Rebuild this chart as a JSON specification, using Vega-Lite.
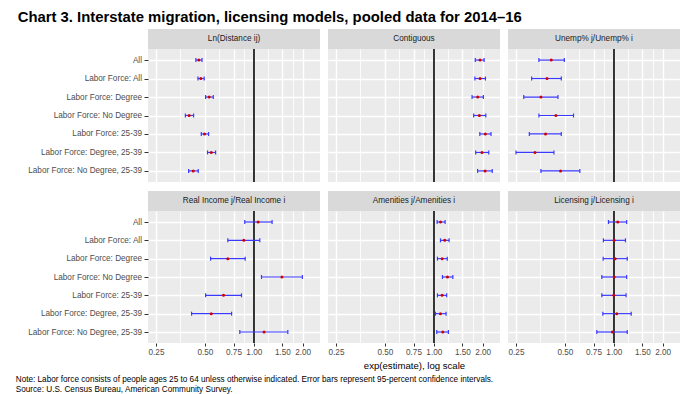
{
  "$schema": "https://vega.github.io/schema/vega-lite/v6.json",
  "background": "white",
  "padding": {"left": 15, "top": 10, "right": 8, "bottom": 4},
  "autosize": {"type": "pad"},
  "title": {"text": "Chart 3. Interstate migration, licensing models, pooled data for 2014–16", "anchor": "start", "font": "Liberation Sans", "fontSize": 14.85, "fontWeight": "bold", "color": "black", "offset": 4, "dx": 2},
  "config": {
    "view": {"fill": "#EBEBEB", "stroke": null},
    "axis": {"gridColor": "white", "domain": false, "tickColor": "#333333", "tickWidth": 1, "labelColor": "#4D4D4D", "labelFont": "Liberation Sans", "labelFontSize": 8.2, "titleFont": "Liberation Sans", "titleFontWeight": "normal", "titleColor": "black"},
    "text": {"font": "Liberation Sans"}
  },
  "datasets": {
    "est": [
      {"panel": "Ln(Distance ij)", "group": "All", "est": 0.459, "lo": 0.44, "hi": 0.48},
      {"panel": "Ln(Distance ij)", "group": "Labor Force: All", "est": 0.472, "lo": 0.453, "hi": 0.495},
      {"panel": "Ln(Distance ij)", "group": "Labor Force: Degree", "est": 0.531, "lo": 0.505, "hi": 0.563},
      {"panel": "Ln(Distance ij)", "group": "Labor Force: No Degree", "est": 0.40, "lo": 0.379, "hi": 0.426},
      {"panel": "Ln(Distance ij)", "group": "Labor Force: 25-39", "est": 0.497, "lo": 0.475, "hi": 0.527},
      {"panel": "Ln(Distance ij)", "group": "Labor Force: Degree, 25-39", "est": 0.547, "lo": 0.519, "hi": 0.582},
      {"panel": "Ln(Distance ij)", "group": "Labor Force: No Degree, 25-39", "est": 0.424, "lo": 0.397, "hi": 0.455},
      {"panel": "Contiguous", "group": "All", "est": 1.926, "lo": 1.80, "hi": 2.04},
      {"panel": "Contiguous", "group": "Labor Force: All", "est": 1.926, "lo": 1.79, "hi": 2.08},
      {"panel": "Contiguous", "group": "Labor Force: Degree", "est": 1.864, "lo": 1.72, "hi": 2.02},
      {"panel": "Contiguous", "group": "Labor Force: No Degree", "est": 1.908, "lo": 1.76, "hi": 2.09},
      {"panel": "Contiguous", "group": "Labor Force: 25-39", "est": 2.077, "lo": 1.92, "hi": 2.25},
      {"panel": "Contiguous", "group": "Labor Force: Degree, 25-39", "est": 1.98, "lo": 1.81, "hi": 2.18},
      {"panel": "Contiguous", "group": "Labor Force: No Degree, 25-39", "est": 2.07, "lo": 1.86, "hi": 2.29},
      {"panel": "Unemp% j/Unemp% i", "group": "All", "est": 0.412, "lo": 0.346, "hi": 0.496},
      {"panel": "Unemp% j/Unemp% i", "group": "Labor Force: All", "est": 0.388, "lo": 0.312, "hi": 0.475},
      {"panel": "Unemp% j/Unemp% i", "group": "Labor Force: Degree", "est": 0.356, "lo": 0.279, "hi": 0.453},
      {"panel": "Unemp% j/Unemp% i", "group": "Labor Force: No Degree", "est": 0.44, "lo": 0.346, "hi": 0.565},
      {"panel": "Unemp% j/Unemp% i", "group": "Labor Force: 25-39", "est": 0.38, "lo": 0.302, "hi": 0.475},
      {"panel": "Unemp% j/Unemp% i", "group": "Labor Force: Degree, 25-39", "est": 0.327, "lo": 0.25, "hi": 0.428},
      {"panel": "Unemp% j/Unemp% i", "group": "Labor Force: No Degree, 25-39", "est": 0.47, "lo": 0.356, "hi": 0.618},
      {"panel": "Real Income j/Real Income i", "group": "All", "est": 1.063, "lo": 0.88, "hi": 1.296},
      {"panel": "Real Income j/Real Income i", "group": "Labor Force: All", "est": 0.868, "lo": 0.692, "hi": 1.089},
      {"panel": "Real Income j/Real Income i", "group": "Labor Force: Degree", "est": 0.692, "lo": 0.542, "hi": 0.885},
      {"panel": "Real Income j/Real Income i", "group": "Labor Force: No Degree", "est": 1.49, "lo": 1.115, "hi": 1.99},
      {"panel": "Real Income j/Real Income i", "group": "Labor Force: 25-39", "est": 0.651, "lo": 0.505, "hi": 0.84},
      {"panel": "Real Income j/Real Income i", "group": "Labor Force: Degree, 25-39", "est": 0.547, "lo": 0.414, "hi": 0.73},
      {"panel": "Real Income j/Real Income i", "group": "Labor Force: No Degree, 25-39", "est": 1.157, "lo": 0.82, "hi": 1.62},
      {"panel": "Amenities j/Amenities i", "group": "All", "est": 1.10, "lo": 1.048, "hi": 1.174},
      {"panel": "Amenities j/Amenities i", "group": "Labor Force: All", "est": 1.168, "lo": 1.099, "hi": 1.242},
      {"panel": "Amenities j/Amenities i", "group": "Labor Force: Degree", "est": 1.125, "lo": 1.053, "hi": 1.21},
      {"panel": "Amenities j/Amenities i", "group": "Labor Force: No Degree", "est": 1.213, "lo": 1.13, "hi": 1.31},
      {"panel": "Amenities j/Amenities i", "group": "Labor Force: 25-39", "est": 1.125, "lo": 1.053, "hi": 1.2},
      {"panel": "Amenities j/Amenities i", "group": "Labor Force: Degree, 25-39", "est": 1.099, "lo": 1.024, "hi": 1.19},
      {"panel": "Amenities j/Amenities i", "group": "Labor Force: No Degree, 25-39", "est": 1.136, "lo": 1.043, "hi": 1.23},
      {"panel": "Licensing j/Licensing i", "group": "All", "est": 1.058, "lo": 0.927, "hi": 1.2},
      {"panel": "Licensing j/Licensing i", "group": "Labor Force: All", "est": 1.005, "lo": 0.863, "hi": 1.18},
      {"panel": "Licensing j/Licensing i", "group": "Labor Force: Degree", "est": 1.019, "lo": 0.86, "hi": 1.21},
      {"panel": "Licensing j/Licensing i", "group": "Labor Force: No Degree", "est": 1.005, "lo": 0.844, "hi": 1.2},
      {"panel": "Licensing j/Licensing i", "group": "Labor Force: 25-39", "est": 1.0, "lo": 0.844, "hi": 1.19},
      {"panel": "Licensing j/Licensing i", "group": "Labor Force: Degree, 25-39", "est": 1.043, "lo": 0.856, "hi": 1.28},
      {"panel": "Licensing j/Licensing i", "group": "Labor Force: No Degree, 25-39", "est": 0.98, "lo": 0.786, "hi": 1.21}
    ]
  },
  "spacing": 8,
  "vconcat": [
    {
      "bounds": "flush",
      "columns": 3,
      "spacing": {"row": 0, "column": 8},
      "concat": [
        {"width": 172, "height": 20, "view": {"fill": "#D9D9D9", "stroke": null}, "data": {"name": "est"},
         "transform": [{"filter": "datum.panel === 'Ln(Distance ij)'"}, {"aggregate": [{"op": "count", "as": "n"}], "groupby": ["panel"]}],
         "mark": {"type": "text", "fontSize": 8.2, "color": "#1A1A1A"}, "encoding": {"text": {"field": "panel"}}},
        {"width": 172, "height": 20, "view": {"fill": "#D9D9D9", "stroke": null}, "data": {"name": "est"},
         "transform": [{"filter": "datum.panel === 'Contiguous'"}, {"aggregate": [{"op": "count", "as": "n"}], "groupby": ["panel"]}],
         "mark": {"type": "text", "fontSize": 8.2, "color": "#1A1A1A"}, "encoding": {"text": {"field": "panel"}}},
        {"width": 172, "height": 20, "view": {"fill": "#D9D9D9", "stroke": null}, "data": {"name": "est"},
         "transform": [{"filter": "datum.panel === 'Unemp% j/Unemp% i'"}, {"aggregate": [{"op": "count", "as": "n"}], "groupby": ["panel"]}],
         "mark": {"type": "text", "fontSize": 8.2, "color": "#1A1A1A"}, "encoding": {"text": {"field": "panel"}}},
        {"width": 172, "height": 133, "data": {"name": "est"},
         "transform": [{"filter": "datum.panel === 'Ln(Distance ij)'"}],
         "encoding": {
           "y": {"field": "group", "type": "nominal", "sort": ["All","Labor Force: All","Labor Force: Degree","Labor Force: No Degree","Labor Force: 25-39","Labor Force: Degree, 25-39","Labor Force: No Degree, 25-39"], "scale": {"type": "point", "padding": 0.6}, "axis": {"title": null, "grid": true, "gridWidth": 1.4, "ticks": true, "tickSize": 4, "labelPadding": 2.5}}
         },
         "layer": [
           {"mark": {"type": "rule", "color": "#333333", "strokeWidth": 1.2}, "encoding": {"x": {"datum": 1, "type": "quantitative", "scale": {"type": "log", "domain": [0.2232, 2.556], "nice": false},
             "axis": {"values": [0.25,0.3536,0.5,0.6124,0.75,0.866,1,1.2247,1.5,1.7321,2], "labels": false, "ticks": false, "title": null, "grid": true, "gridWidth": {"condition": {"test": "indexof([0.25,0.5,0.75,1,1.5,2], datum.value) >= 0", "value": 1.4}, "value": 0.8}}}, "y": null}},
           {"mark": {"type": "rule", "color": "#3939FF", "strokeWidth": 1.2}, "encoding": {"x": {"field": "lo", "type": "quantitative"}, "x2": {"field": "hi"}}},
           {"mark": {"type": "tick", "color": "#3939FF", "size": 4, "thickness": 1.2, "opacity": 1}, "encoding": {"x": {"field": "lo", "type": "quantitative"}}},
           {"mark": {"type": "tick", "color": "#3939FF", "size": 4, "thickness": 1.2, "opacity": 1}, "encoding": {"x": {"field": "hi", "type": "quantitative"}}},
           {"mark": {"type": "circle", "color": "#D00000", "size": 9, "opacity": 1}, "encoding": {"x": {"field": "est", "type": "quantitative"}}}
         ]},
        {"width": 172, "height": 133, "data": {"name": "est"},
         "transform": [{"filter": "datum.panel === 'Contiguous'"}],
         "encoding": {
           "y": {"field": "group", "type": "nominal", "sort": ["All","Labor Force: All","Labor Force: Degree","Labor Force: No Degree","Labor Force: 25-39","Labor Force: Degree, 25-39","Labor Force: No Degree, 25-39"], "scale": {"type": "point", "padding": 0.6}, "axis": {"title": null, "grid": true, "gridWidth": 1.4, "ticks": false, "labels": false}}
         },
         "layer": [
           {"mark": {"type": "rule", "color": "#333333", "strokeWidth": 1.2}, "encoding": {"x": {"datum": 1, "type": "quantitative", "scale": {"type": "log", "domain": [0.2232, 2.556], "nice": false},
             "axis": {"values": [0.25,0.3536,0.5,0.6124,0.75,0.866,1,1.2247,1.5,1.7321,2], "labels": false, "ticks": false, "title": null, "grid": true, "gridWidth": {"condition": {"test": "indexof([0.25,0.5,0.75,1,1.5,2], datum.value) >= 0", "value": 1.4}, "value": 0.8}}}, "y": null}},
           {"mark": {"type": "rule", "color": "#3939FF", "strokeWidth": 1.2}, "encoding": {"x": {"field": "lo", "type": "quantitative"}, "x2": {"field": "hi"}}},
           {"mark": {"type": "tick", "color": "#3939FF", "size": 4, "thickness": 1.2, "opacity": 1}, "encoding": {"x": {"field": "lo", "type": "quantitative"}}},
           {"mark": {"type": "tick", "color": "#3939FF", "size": 4, "thickness": 1.2, "opacity": 1}, "encoding": {"x": {"field": "hi", "type": "quantitative"}}},
           {"mark": {"type": "circle", "color": "#D00000", "size": 9, "opacity": 1}, "encoding": {"x": {"field": "est", "type": "quantitative"}}}
         ]},
        {"width": 172, "height": 133, "data": {"name": "est"},
         "transform": [{"filter": "datum.panel === 'Unemp% j/Unemp% i'"}],
         "encoding": {
           "y": {"field": "group", "type": "nominal", "sort": ["All","Labor Force: All","Labor Force: Degree","Labor Force: No Degree","Labor Force: 25-39","Labor Force: Degree, 25-39","Labor Force: No Degree, 25-39"], "scale": {"type": "point", "padding": 0.6}, "axis": {"title": null, "grid": true, "gridWidth": 1.4, "ticks": false, "labels": false}}
         },
         "layer": [
           {"mark": {"type": "rule", "color": "#333333", "strokeWidth": 1.2}, "encoding": {"x": {"datum": 1, "type": "quantitative", "scale": {"type": "log", "domain": [0.2232, 2.556], "nice": false},
             "axis": {"values": [0.25,0.3536,0.5,0.6124,0.75,0.866,1,1.2247,1.5,1.7321,2], "labels": false, "ticks": false, "title": null, "grid": true, "gridWidth": {"condition": {"test": "indexof([0.25,0.5,0.75,1,1.5,2], datum.value) >= 0", "value": 1.4}, "value": 0.8}}}, "y": null}},
           {"mark": {"type": "rule", "color": "#3939FF", "strokeWidth": 1.2}, "encoding": {"x": {"field": "lo", "type": "quantitative"}, "x2": {"field": "hi"}}},
           {"mark": {"type": "tick", "color": "#3939FF", "size": 4, "thickness": 1.2, "opacity": 1}, "encoding": {"x": {"field": "lo", "type": "quantitative"}}},
           {"mark": {"type": "tick", "color": "#3939FF", "size": 4, "thickness": 1.2, "opacity": 1}, "encoding": {"x": {"field": "hi", "type": "quantitative"}}},
           {"mark": {"type": "circle", "color": "#D00000", "size": 9, "opacity": 1}, "encoding": {"x": {"field": "est", "type": "quantitative"}}}
         ]}
      ]
    },
    {
      "bounds": "flush",
      "columns": 3,
      "spacing": {"row": 0, "column": 8},
      "title": {"text": ["Note: Labor force consists of people ages 25 to 64 unless otherwise indicated. Error bars represent 95-percent confidence intervals.", "Source: U.S. Census Bureau, American Community Survey."], "orient": "bottom", "anchor": "start", "font": "Liberation Sans", "fontSize": 8.2, "fontWeight": "normal", "color": "black", "lineHeight": 10, "offset": 6, "dx": -12},
      "concat": [
        {"width": 172, "height": 20, "view": {"fill": "#D9D9D9", "stroke": null}, "data": {"name": "est"},
         "transform": [{"filter": "datum.panel === 'Real Income j/Real Income i'"}, {"aggregate": [{"op": "count", "as": "n"}], "groupby": ["panel"]}],
         "mark": {"type": "text", "fontSize": 8.2, "color": "#1A1A1A"}, "encoding": {"text": {"field": "panel"}}},
        {"width": 172, "height": 20, "view": {"fill": "#D9D9D9", "stroke": null}, "data": {"name": "est"},
         "transform": [{"filter": "datum.panel === 'Amenities j/Amenities i'"}, {"aggregate": [{"op": "count", "as": "n"}], "groupby": ["panel"]}],
         "mark": {"type": "text", "fontSize": 8.2, "color": "#1A1A1A"}, "encoding": {"text": {"field": "panel"}}},
        {"width": 172, "height": 20, "view": {"fill": "#D9D9D9", "stroke": null}, "data": {"name": "est"},
         "transform": [{"filter": "datum.panel === 'Licensing j/Licensing i'"}, {"aggregate": [{"op": "count", "as": "n"}], "groupby": ["panel"]}],
         "mark": {"type": "text", "fontSize": 8.2, "color": "#1A1A1A"}, "encoding": {"text": {"field": "panel"}}},
        {"width": 172, "height": 132, "data": {"name": "est"},
         "transform": [{"filter": "datum.panel === 'Real Income j/Real Income i'"}],
         "encoding": {
           "y": {"field": "group", "type": "nominal", "sort": ["All","Labor Force: All","Labor Force: Degree","Labor Force: No Degree","Labor Force: 25-39","Labor Force: Degree, 25-39","Labor Force: No Degree, 25-39"], "scale": {"type": "point", "padding": 0.6}, "axis": {"title": null, "grid": true, "gridWidth": 1.4, "ticks": true, "tickSize": 4, "labelPadding": 2.5}}
         },
         "layer": [
           {"mark": {"type": "rule", "color": "#333333", "strokeWidth": 1.2}, "encoding": {"x": {"datum": 1, "type": "quantitative", "scale": {"type": "log", "domain": [0.2232, 2.556], "nice": false},
             "axis": {"values": [0.25,0.3536,0.5,0.6124,0.75,0.866,1,1.2247,1.5,1.7321,2], "labelExpr": "indexof([0.25,0.5,0.75,1,1.5,2], datum.value) >= 0 ? format(datum.value, '.2f') : ''", "ticks": true, "tickSize": 3, "labelPadding": 2, "tickOpacity": {"condition": {"test": "indexof([0.25,0.5,0.75,1,1.5,2], datum.value) >= 0", "value": 1}, "value": 0}, "title": null, "grid": true, "gridWidth": {"condition": {"test": "indexof([0.25,0.5,0.75,1,1.5,2], datum.value) >= 0", "value": 1.4}, "value": 0.8}}}, "y": null}},
           {"mark": {"type": "rule", "color": "#3939FF", "strokeWidth": 1.2}, "encoding": {"x": {"field": "lo", "type": "quantitative"}, "x2": {"field": "hi"}}},
           {"mark": {"type": "tick", "color": "#3939FF", "size": 4, "thickness": 1.2, "opacity": 1}, "encoding": {"x": {"field": "lo", "type": "quantitative"}}},
           {"mark": {"type": "tick", "color": "#3939FF", "size": 4, "thickness": 1.2, "opacity": 1}, "encoding": {"x": {"field": "hi", "type": "quantitative"}}},
           {"mark": {"type": "circle", "color": "#D00000", "size": 9, "opacity": 1}, "encoding": {"x": {"field": "est", "type": "quantitative"}}}
         ]},
        {"width": 172, "height": 132, "data": {"name": "est"},
         "transform": [{"filter": "datum.panel === 'Amenities j/Amenities i'"}],
         "encoding": {
           "y": {"field": "group", "type": "nominal", "sort": ["All","Labor Force: All","Labor Force: Degree","Labor Force: No Degree","Labor Force: 25-39","Labor Force: Degree, 25-39","Labor Force: No Degree, 25-39"], "scale": {"type": "point", "padding": 0.6}, "axis": {"title": null, "grid": true, "gridWidth": 1.4, "ticks": false, "labels": false}}
         },
         "layer": [
           {"mark": {"type": "rule", "color": "#333333", "strokeWidth": 1.2}, "encoding": {"x": {"datum": 1, "type": "quantitative", "scale": {"type": "log", "domain": [0.2232, 2.556], "nice": false},
             "axis": {"values": [0.25,0.3536,0.5,0.6124,0.75,0.866,1,1.2247,1.5,1.7321,2], "labelExpr": "indexof([0.25,0.5,0.75,1,1.5,2], datum.value) >= 0 ? format(datum.value, '.2f') : ''", "ticks": true, "tickSize": 3, "labelPadding": 2, "tickOpacity": {"condition": {"test": "indexof([0.25,0.5,0.75,1,1.5,2], datum.value) >= 0", "value": 1}, "value": 0}, "title": "exp(estimate), log scale", "titleFontSize": 9.6, "titlePadding": 5, "grid": true, "gridWidth": {"condition": {"test": "indexof([0.25,0.5,0.75,1,1.5,2], datum.value) >= 0", "value": 1.4}, "value": 0.8}}}, "y": null}},
           {"mark": {"type": "rule", "color": "#3939FF", "strokeWidth": 1.2}, "encoding": {"x": {"field": "lo", "type": "quantitative"}, "x2": {"field": "hi"}}},
           {"mark": {"type": "tick", "color": "#3939FF", "size": 4, "thickness": 1.2, "opacity": 1}, "encoding": {"x": {"field": "lo", "type": "quantitative"}}},
           {"mark": {"type": "tick", "color": "#3939FF", "size": 4, "thickness": 1.2, "opacity": 1}, "encoding": {"x": {"field": "hi", "type": "quantitative"}}},
           {"mark": {"type": "circle", "color": "#D00000", "size": 9, "opacity": 1}, "encoding": {"x": {"field": "est", "type": "quantitative"}}}
         ]},
        {"width": 172, "height": 132, "data": {"name": "est"},
         "transform": [{"filter": "datum.panel === 'Licensing j/Licensing i'"}],
         "encoding": {
           "y": {"field": "group", "type": "nominal", "sort": ["All","Labor Force: All","Labor Force: Degree","Labor Force: No Degree","Labor Force: 25-39","Labor Force: Degree, 25-39","Labor Force: No Degree, 25-39"], "scale": {"type": "point", "padding": 0.6}, "axis": {"title": null, "grid": true, "gridWidth": 1.4, "ticks": false, "labels": false}}
         },
         "layer": [
           {"mark": {"type": "rule", "color": "#333333", "strokeWidth": 1.2}, "encoding": {"x": {"datum": 1, "type": "quantitative", "scale": {"type": "log", "domain": [0.2232, 2.556], "nice": false},
             "axis": {"values": [0.25,0.3536,0.5,0.6124,0.75,0.866,1,1.2247,1.5,1.7321,2], "labelExpr": "indexof([0.25,0.5,0.75,1,1.5,2], datum.value) >= 0 ? format(datum.value, '.2f') : ''", "ticks": true, "tickSize": 3, "labelPadding": 2, "tickOpacity": {"condition": {"test": "indexof([0.25,0.5,0.75,1,1.5,2], datum.value) >= 0", "value": 1}, "value": 0}, "title": null, "grid": true, "gridWidth": {"condition": {"test": "indexof([0.25,0.5,0.75,1,1.5,2], datum.value) >= 0", "value": 1.4}, "value": 0.8}}}, "y": null}},
           {"mark": {"type": "rule", "color": "#3939FF", "strokeWidth": 1.2}, "encoding": {"x": {"field": "lo", "type": "quantitative"}, "x2": {"field": "hi"}}},
           {"mark": {"type": "tick", "color": "#3939FF", "size": 4, "thickness": 1.2, "opacity": 1}, "encoding": {"x": {"field": "lo", "type": "quantitative"}}},
           {"mark": {"type": "tick", "color": "#3939FF", "size": 4, "thickness": 1.2, "opacity": 1}, "encoding": {"x": {"field": "hi", "type": "quantitative"}}},
           {"mark": {"type": "circle", "color": "#D00000", "size": 9, "opacity": 1}, "encoding": {"x": {"field": "est", "type": "quantitative"}}}
         ]}
      ]
    }
  ]
}
